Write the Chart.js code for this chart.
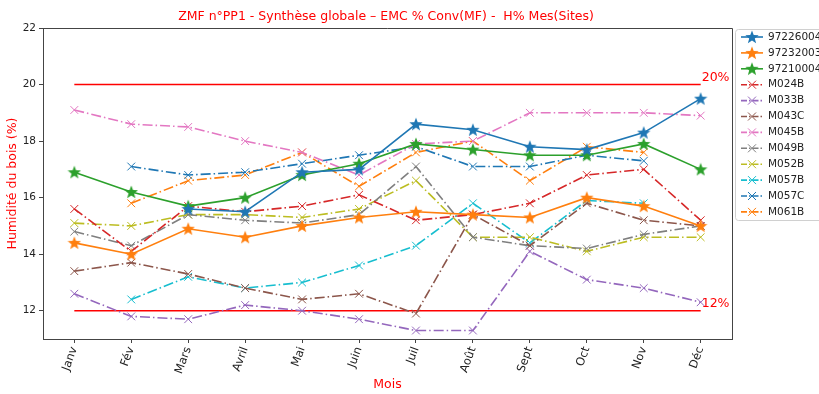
<!DOCTYPE html>
<html lang="fr">
<head>
  <meta charset="utf-8">
  <title>ZMF n°PP1 - Synthèse globale</title>
  <script src="https://cdn.jsdelivr.net/npm/chart.js@4.4.0/dist/chart.umd.min.js"></script>
  <style>
    html, body { margin: 0; padding: 0; background: #fff; }
    #wrap { width: 819px; height: 394px; position: relative; }
  </style>
</head>
<body>
  <div id="wrap"><canvas id="myChart" width="819" height="394"></canvas></div>
  <script>
    // months on the x axis
    const months = ['Janv', 'Fév', 'Mars', 'Avril', 'Mai', 'Juin', 'Juil', 'Août', 'Sept', 'Oct', 'Nov', 'Déc'];
    const yTicks = [12, 14, 16, 18, 20, 22];

    // stations (stars, solid lines)
    const s97226004 = [null, null, 15.6, 15.5, 16.9, 17.0, 18.6, 18.4, 17.8, 17.7, 18.3, 19.5];
    const s97232003 = [14.4, 14.0, 14.9, 14.6, 15.0, 15.3, 15.5, 15.4, 15.3, 16.0, 15.7, 15.0];
    const s97210004 = [16.9, 16.2, 15.7, 16.0, 16.8, 17.2, 17.9, 17.7, 17.5, 17.5, 17.9, 17.0];
    // measured sites (x markers, dash-dot)
    const m024B = [15.6, 14.1, 15.7, 15.5, 15.7, 16.1, 15.2, 15.4, 15.8, 16.8, 17.0, 15.2];
    const m033B = [12.6, 11.8, 11.7, 12.2, 12.0, 11.7, 11.3, 11.3, 14.1, 13.1, 12.8, 12.3];
    const m043C = [13.4, 13.7, 13.3, 12.8, 12.4, 12.6, 11.9, 15.4, 14.3, 15.8, 15.2, 15.0];
    const m045B = [19.1, 18.6, 18.5, 18.0, 17.6, 16.8, 17.9, 18.0, 19.0, 19.0, 19.0, 18.9];
    const m049B = [14.8, 14.3, 15.4, 15.2, 15.1, 15.4, 17.1, 14.6, 14.3, 14.2, 14.7, 15.0];
    const m052B = [15.1, 15.0, 15.4, 15.4, 15.3, 15.6, 16.6, 14.6, 14.6, 14.1, 14.6, 14.6];
    const m057B = [null, 12.4, 13.2, 12.8, 13.0, 13.6, 14.3, 15.8, 14.4, 15.9, 15.8, null];
    const m057C = [null, 17.1, 16.8, 16.9, 17.2, 17.5, 17.8, 17.1, 17.1, 17.5, 17.3, null];
    const m061B = [null, 15.8, 16.6, 16.8, 17.6, 16.4, 17.6, 18.0, 16.6, 17.8, 17.6, null];

    // limits
    const limitHigh = 20;
    const limitLow = 12;

    const series = [
      { name: '97226004', values: s97226004, color: '#1f77b4', star: true },
      { name: '97232003', values: s97232003, color: '#ff7f0e', star: true },
      { name: '97210004', values: s97210004, color: '#2ca02c', star: true },
      { name: 'M024B', values: m024B, color: '#d62728' },
      { name: 'M033B', values: m033B, color: '#9467bd' },
      { name: 'M043C', values: m043C, color: '#8c564b' },
      { name: 'M045B', values: m045B, color: '#e377c2' },
      { name: 'M049B', values: m049B, color: '#7f7f7f' },
      { name: 'M052B', values: m052B, color: '#bcbd22' },
      { name: 'M057B', values: m057B, color: '#17becf' },
      { name: 'M057C', values: m057C, color: '#1f77b4' },
      { name: 'M061B', values: m061B, color: '#ff7f0e' }
    ];

    const FONT = 'DejaVu Sans';
    const DASHDOT = [10, 3, 1.5, 3];

    // little filled star images used as point style
    function makeStar(color, size) {
      var c = document.createElement('canvas');
      c.width = size; c.height = size;
      var g = c.getContext('2d');
      var cx = size / 2, cy = size / 2, R = size / 2, r = R * 0.42;
      g.beginPath();
      for (var k = 0; k < 10; k++) {
        var rad = k % 2 === 0 ? R : r;
        var a = -Math.PI / 2 + k * Math.PI / 5;
        g.lineTo(cx + rad * Math.cos(a), cy + rad * Math.sin(a) + 0.5);
      }
      g.closePath();
      g.fillStyle = color;
      g.fill();
      return c;
    }

    series.forEach(function (s) {
      if (s.star) s.img = makeStar(s.color, 14);
    });

    function toPoints(arr) {
      var pts = [];
      for (var i = 0; i < arr.length; i++) {
        if (arr[i] !== null) pts.push({ x: i, y: arr[i] });
      }
      return pts;
    }

    var datasets = series.map(function (s) {
      return {
        label: s.name,
        data: toPoints(s.values),
        borderColor: s.color,
        backgroundColor: s.color,
        borderWidth: 1.6,
        borderDash: s.star ? [] : DASHDOT,
        pointStyle: s.star ? s.img : 'crossRot',
        pointRadius: s.star ? 7 : 5.5,
        pointBorderWidth: 1,
        pointBorderColor: s.color,
        tension: 0
      };
    });

    // red limit lines
    [limitHigh, limitLow].forEach(function (v) {
      datasets.push({
        label: 'limit' + v,
        data: [{ x: 0, y: v }, { x: months.length - 1, y: v }],
        borderColor: '#ff0000',
        borderWidth: 1.6,
        pointRadius: 0
      });
    });

    const decorations = {
      id: 'decorations',
      afterDatasetsDraw(chart) {
        var ctx = chart.ctx, a = chart.chartArea;
        var xs = chart.scales.x, ys = chart.scales.y;
        ctx.save();
        // top/right frame
        ctx.strokeStyle = '#444';
        ctx.lineWidth = 1;
        ctx.beginPath();
        ctx.moveTo(a.left, a.top + 0.5);
        ctx.lineTo(a.right + 0.5, a.top + 0.5);
        ctx.lineTo(a.right + 0.5, a.bottom);
        ctx.stroke();

        // limit labels
        ctx.fillStyle = '#ff0000';
        ctx.font = '12.5px "' + FONT + '"';
        ctx.textAlign = 'left';
        ctx.textBaseline = 'bottom';
        ctx.fillText(limitHigh + '%', xs.getPixelForValue(months.length - 1) + 1, ys.getPixelForValue(limitHigh) - 1);
        ctx.fillText(limitLow + '%', xs.getPixelForValue(months.length - 1) + 1, ys.getPixelForValue(limitLow) - 1);

        // title and axis titles
        ctx.font = '12.5px "' + FONT + '"';
        ctx.textAlign = 'center';
        ctx.textBaseline = 'middle';
        ctx.fillText('ZMF n°PP1 - Synthèse globale – EMC % Conv(MF) -  H% Mes(Sites)', 386, 17);
        ctx.fillText('Mois', (a.left + a.right) / 2, 385);
        ctx.translate(13, (a.top + a.bottom) / 2);
        ctx.rotate(-Math.PI / 2);
        ctx.fillText('Humidité du bois (%)', 0, 0);
        ctx.restore();

        // legend
        ctx.save();
        var lx = 735.5, ly = 29.5, lw = 100, lh = 191;
        ctx.fillStyle = 'rgba(255,255,255,0.85)';
        ctx.strokeStyle = '#d0d0d0';
        ctx.lineWidth = 1;
        ctx.beginPath();
        ctx.roundRect(lx, ly, lw, lh, 3);
        ctx.fill();
        ctx.stroke();
        ctx.font = '10.5px "' + FONT + '"';
        ctx.textAlign = 'left';
        ctx.textBaseline = 'middle';
        series.forEach(function (s, i) {
          var y = 37 + i * 15.9;
          ctx.strokeStyle = s.color;
          ctx.lineWidth = 1.6;
          ctx.setLineDash(s.star ? [] : [6, 2, 1.5, 2]);
          ctx.beginPath();
          ctx.moveTo(741, y);
          ctx.lineTo(763, y);
          ctx.stroke();
          ctx.setLineDash([]);
          if (s.star) {
            ctx.drawImage(s.img, 752 - 7, y - 7);
          } else {
            ctx.lineWidth = 1;
            ctx.beginPath();
            ctx.moveTo(748, y - 4); ctx.lineTo(756, y + 4);
            ctx.moveTo(748, y + 4); ctx.lineTo(756, y - 4);
            ctx.stroke();
          }
          ctx.fillStyle = '#222';
          ctx.fillText(s.name, 768, y);
        });
        ctx.restore();
      }
    };

    var ctx = document.getElementById('myChart');
    var myChart = new Chart(ctx, {
      type: 'line',
      data: { datasets: datasets },
      options: {
        responsive: false,
        animation: false,
        layout: { padding: { top: 28, right: 87, left: 0, bottom: 0 } },
        plugins: {
          legend: { display: false },
          title: { display: false },
          tooltip: { enabled: false }
        },
        scales: {
          x: {
            type: 'linear',
            min: -0.55,
            max: months.length - 1 + 0.55,
            afterBuildTicks: function (scale) {
              scale.ticks = months.map(function (m, i) { return { value: i }; });
            },
            afterFit: function (scale) { scale.height = 55; },
            ticks: {
              autoSkip: false,
              minRotation: 70,
              maxRotation: 70,
              padding: 2,
              color: '#222',
              font: { family: FONT, size: 11.5 },
              callback: function (v) { return months[v]; }
            },
            grid: { drawOnChartArea: false, drawTicks: true, tickLength: 4, color: '#444' },
            border: { display: true, color: '#444', width: 1 }
          },
          y: {
            type: 'linear',
            min: 11,
            max: 22,
            afterBuildTicks: function (scale) {
              scale.ticks = yTicks.map(function (v) { return { value: v }; });
            },
            afterFit: function (scale) { scale.width = 43; },
            ticks: {
              padding: 3,
              color: '#222',
              font: { family: FONT, size: 10.5 }
            },
            grid: { drawOnChartArea: false, drawTicks: true, tickLength: 4, color: '#444' },
            border: { display: true, color: '#444', width: 1 }
          }
        }
      },
      plugins: [decorations]
    });
  </script>
</body>
</html>
